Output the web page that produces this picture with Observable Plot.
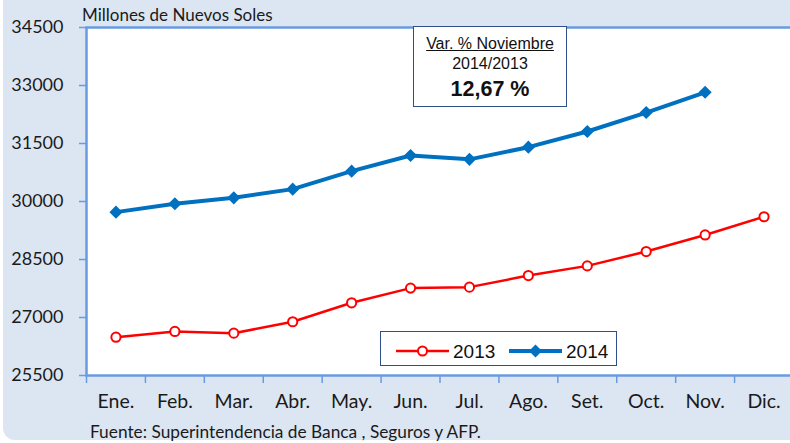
<!DOCTYPE html>
<html>
<head>
<meta charset="utf-8">
<script src="https://cdn.jsdelivr.net/npm/d3@7"></script>
<script src="https://cdn.jsdelivr.net/npm/@observablehq/plot@0.6"></script>
<style>
  html, body { margin: 0; padding: 0; background: #ffffff; }
  #wrap { position: relative; width: 790px; height: 443px; overflow: hidden; }
  #panel { position: absolute; left: 3px; top: 0; width: 820px; height: 440px; background: #dce6f2; border-bottom-left-radius: 12px; }
  #chart { position: absolute; left: 0; top: 0; }
  .calib { font-family: Lato, "Open Sans", sans-serif; color: #1a1a1a; }
  #title { position: absolute; left: 82px; top: 5px; font-size: 17px; line-height: 20px; }
  #source { position: absolute; left: 90px; top: 422px; font-size: 17.3px; line-height: 20px; }
  #note { position: absolute; left: 413px; top: 26px; width: 152px; height: 79px; background: #fff; border: 1.6px solid #2f4f8a;
          font-family: "Liberation Sans", Arial, sans-serif; text-align: center; color: #111; }
  #note .l1 { font-size: 16px; text-decoration: underline; margin-top: 7px; line-height: 19px; }
  #note .l2 { font-size: 16px; margin-top: 1px; line-height: 19px; }
  #note .l3 { font-size: 21.5px; font-weight: bold; margin-top: 4px; line-height: 25px; }
  #legend { position: absolute; left: 380px; top: 331px; width: 235px; height: 33px; background: #fff; border: 1.3px solid #2f4f8a; }
  #legend svg { position: absolute; left: 0; top: 0; }
</style>
</head>
<body>
<div id="wrap">
  <div id="panel"></div>
  <div id="chart"></div>
  <div id="title" class="calib">Millones de Nuevos Soles</div>
  <div id="source" class="calib">Fuente: Superintendencia de Banca , Seguros y AFP.</div>
  <div id="note"><div class="l1">Var. % Noviembre</div><div class="l2">2014/2013</div><div class="l3">12,67 %</div></div>
  <div id="legend"></div>
</div>
<script>
const months = ["Ene.", "Feb.", "Mar.", "Abr.", "May.", "Jun.", "Jul.", "Ago.", "Set.", "Oct.", "Nov.", "Dic."];
const values2013 = [26490, 26640, 26595, 26890, 27380, 27760, 27785, 28085, 28335, 28705, 29135, 29605];
const values2014 = [29725, 29940, 30095, 30320, 30785, 31190, 31090, 31405, 31810, 32300, 32825];
const yTicks = [25500, 27000, 28500, 30000, 31500, 33000, 34500];
const seriesNames = ["2013", "2014"];

const d2013 = values2013.map((v, i) => ({i, v}));
const d2014 = values2014.map((v, i) => ({i, v}));

const blue = "#0070c0", red = "#ff0000", axisBlue = "#6a9be0";

const plot = Plot.plot({
  width: 790,
  height: 443,
  marginTop: 27,
  marginBottom: 68,
  marginLeft: 86,
  marginRight: -3,
  style: {background: "transparent", fontFamily: "Lato, 'Open Sans', sans-serif", fontSize: "18px", color: "#1a1a1a", overflow: "visible"},
  x: {type: "linear", domain: [0, 12]},
  y: {domain: [25500, 34500]},
  marks: [
    Plot.frame({fill: "white", stroke: axisBlue, strokeWidth: 2.5}),
    Plot.axisY({ticks: yTicks, tickFormat: d => String(d), tickSize: 7, tickPadding: 16, stroke: axisBlue, strokeWidth: 1.5, label: null, fontSize: 18, fill: "#1a1a1a"}),
    Plot.axisX({ticks: d3.range(0, 13), tickFormat: () => "", tickSize: 8, stroke: axisBlue, strokeWidth: 1.5, label: null}),
    Plot.axisX({ticks: d3.range(12).map(i => i + 0.5), tickFormat: t => months[Math.floor(t)], tickSize: 0, tickPadding: 19, label: null, fontSize: 19.5, fill: "#1a1a1a"}),
    Plot.line(d2013, {x: d => d.i + 0.5, y: "v", stroke: red, strokeWidth: 2.5}),
    Plot.dot(d2013, {x: d => d.i + 0.5, y: "v", r: 4.6, fill: "white", stroke: red, strokeWidth: 2}),
    Plot.line(d2014, {x: d => d.i + 0.5, y: "v", stroke: blue, strokeWidth: 4}),
    Plot.dot(d2014, {x: d => d.i + 0.5, y: "v", symbol: "diamond2", r: 5.9, fill: blue, stroke: "none"})
  ]
});
document.getElementById("chart").appendChild(plot);

// legend
const lg = d3.select("#legend").append("svg").attr("width", 235).attr("height", 33);
const items = [
  {name: seriesNames[0], color: red, x0: 15, sym: "circle"},
  {name: seriesNames[1], color: blue, x0: 128, sym: "diamond"}
];
items.forEach(it => {
  lg.append("line").attr("x1", it.x0).attr("x2", it.x0 + 53).attr("y1", 19).attr("y2", 19)
    .attr("stroke", it.color).attr("stroke-width", it.sym === "circle" ? 2.5 : 4);
  if (it.sym === "circle") {
    lg.append("circle").attr("cx", it.x0 + 26.5).attr("cy", 19).attr("r", 4.5).attr("fill", "white").attr("stroke", it.color).attr("stroke-width", 2);
  } else {
    lg.append("path").attr("d", d3.symbol(d3.symbolDiamond2, 107)()).attr("transform", `translate(${it.x0 + 26.5},19)`).attr("fill", it.color);
  }
  lg.append("text").attr("x", it.x0 + 57).attr("y", 26).text(it.name)
    .attr("font-family", "'Liberation Sans', Arial, sans-serif").attr("font-size", 19).attr("fill", "#111");
});
</script>
</body>
</html>
